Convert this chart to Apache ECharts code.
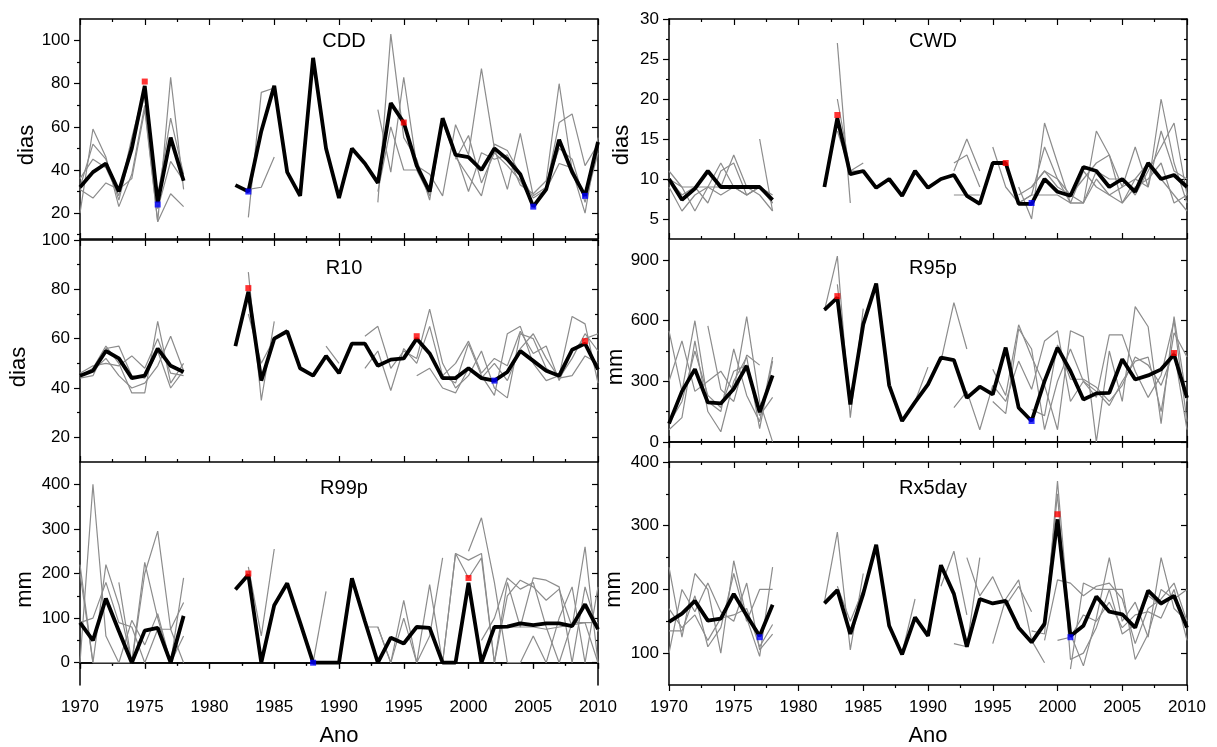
<!DOCTYPE html>
<html>
<head>
<meta charset="utf-8">
<script src="https://cdn.jsdelivr.net/npm/echarts@6/dist/echarts.min.js"></script>
<style>
html, body { margin: 0; padding: 0; background: #fff; }
#chart { width: 1217px; height: 747px; }
</style>
</head>
<body>
<div id="chart"></div>
<script>
// years on the x axis
const years = [1970, 1971, 1972, 1973, 1974, 1975, 1976, 1977, 1978, 1979, 1980,
    1981, 1982, 1983, 1984, 1985, 1986, 1987, 1988, 1989, 1990, 1991, 1992, 1993,
    1994, 1995, 1996, 1997, 1998, 1999, 2000, 2001, 2002, 2003, 2004, 2005, 2006,
    2007, 2008, 2009, 2010];

// regional mean (black), null = no data
const cddMean = [32, 39, 43, 30, 50, 79, 25, 55, 35, null, null, null, 33, 30, 58, 79, 39, 28, 92, 50, 27, 50, 43, 34, 71, 62, 42, 30, 64, 47, 46, 40, 50, 45, 38, 23, 31, 54, 39, 28, 53];
const cwdMean = [10, 7.4, 8.8, 11, 9, 9, 9, 9, 7.4, null, null, null, 9, 17.6, 10.6, 11, 8.9, 10, 7.9, 11, 8.9, 10, 10.5, 7.9, 6.9, 12, 12, 6.9, 6.9, 10, 8.4, 7.9, 11.5, 11, 9, 10, 8.4, 12, 10, 10.5, 9];
const r10Mean = [45, 47, 55, 52, 44, 45, 56, 49, 46.5, null, null, null, 57, 79, 43, 60, 63, 48, 45, 53, 46, 58, 58, 49, 51.5, 52, 60, 54, 44, 44, 48, 44, 43, 46.5, 55, 51, 47, 45, 55.5, 58, 47.5];
const r95Mean = [90, 250, 360, 195, 190, 263, 376, 147, 329, null, null, null, 654, 715, 185, 582, 784, 280, 103, 197, 285, 417, 405, 218, 273, 235, 467, 169, 103, 301, 467, 351, 210, 240, 243, 409, 309, 329, 359, 433, 218];
const r99Mean = [90, 50, 144, 71, 0, 72, 78, 0, 105, null, null, null, 164, 197, 0, 129, 178, 90, 0, 0, 0, 189, 93, 0, 56, 43, 80, 78, 0, 0, 179, 0, 80, 81, 88, 84, 88, 88, 82, 131, 75];
const rx5Mean = [149, 162, 182, 151, 154, 193, 159, 127, 176, null, null, null, 178, 199, 130, 193, 270, 143, 98, 156, 127, 238, 193, 110, 185, 178, 182, 140, 117, 146, 310, 127, 143, 189, 165, 161, 140, 198, 178, 190, 140];

// stations (grey): [first year, values]
const cddGray = [
    [1970, [20, 59, 46, 23, 38, 70, 16, 83, 31]],
    [1970, [32, 52, 45, 26, 50, 75, 28, 64, 38]],
    [1970, [31, 27, 34, 31, 36, 68, 16, 29, 23]],
    [1970, [36, 45, 41, 28, 55, 78, 22, 44, 35]],
    [1983, [18, 76, 78]],
    [1983, [31, 32, 46]],
    [1993, [68, 39, 83, 42, 38, 28, 61, 47, 87, 50, 31, 57, 28, 32, 62, 66, 42, 52]],
    [1993, [25, 103, 55, 45, 26, 63, 48, 30, 48, 45, 47, 33, 29, 35, 80, 40, 20, 55]],
    [1993, [30, 60, 40, 40, 28, 62, 46, 37, 28, 52, 49, 38, 27, 31, 43, 41, 28, 50]],
    [1999, [45, 56, 34, 48, 42, 35, 24, 32, 50, 45, 25, 48]]
];
const cwdGray = [
    [1970, [11, 9, 6, 9, 12, 9, 8, 9, 8]],
    [1970, [10, 9, 9, 7, 11, 12, 8, 9, 7]],
    [1970, [10, 8, 9, 9, 9, 13, 9, 8, 6]],
    [1970, [9, 6, 8, 9, 8, 9, 8, 9, 7]],
    [1977, [15, 6]],
    [1983, [27, 7]],
    [1983, [20, 11, 12]],
    [1983, [16, 11, 11]],
    [1992, [8, 8, 8]],
    [1992, [11, 15, 11]],
    [1992, [12, 13, 9]],
    [1995, [14, 9, 7]],
    [1997, [9, 5, 17, 12, 7, 7, 16, 13, 9, 14, 9, 16, 11, 10]],
    [1997, [7, 8, 14, 10, 8, 10, 12, 13, 7, 10, 9, 20, 12, 7]],
    [1997, [8, 9, 11, 9, 8, 7, 11, 10, 10, 8, 11, 14, 17, 8]],
    [1997, [7, 8, 8, 8, 7, 7, 10, 8, 9, 10, 12, 10, 8, 6]],
    [1998, [9, 11, 10, 7, 11, 9, 8, 7, 9, 10, 12, 7, 8]]
];
const r10Gray = [
    [1970, [45, 48, 57, 50, 38, 38, 67, 42, 50]],
    [1970, [44, 45, 56, 57, 45, 44, 55, 40, 47]],
    [1970, [46, 49, 50, 49, 53, 48, 60, 46, 45]],
    [1970, [45, 47, 52, 45, 40, 42, 49, 61, 47]],
    [1983, [87, 35, 67]],
    [1983, [70, 50, 60]],
    [1989, [57, 50]],
    [1992, [48, 55, 39, 56, 50, 65, 45, 42, 58, 45, 37, 62, 65, 50, 43, 45, 69, 66, 42]],
    [1992, [61, 65, 48, 55, 52, 72, 50, 40, 45, 55, 40, 36, 62, 60, 48, 44, 52, 62, 55]],
    [1996, [45, 48, 40, 38, 48, 44, 50, 43, 56, 62, 52, 44, 45, 53, 50]],
    [1998, [45, 50, 59, 46, 52, 49, 63, 54, 57, 43, 55, 60, 62]]
];
const r95Gray = [
    [1970, [550, 250, 600, 200, 150, 460, 230, 100, 420]],
    [1970, [300, 500, 250, 300, 350, 250, 620, 200, 0]],
    [1970, [60, 120, 500, 150, 50, 300, 420, 65, 400]],
    [1970, [90, 200, 450, 230, 170, 350, 380, 130, 220]],
    [1973, [575, 260, 200, 430, 380]],
    [1982, [650, 920, 120, 660]],
    [1983, [780, 200, 590]],
    [1989, [200, 370]],
    [1991, [400, 690, 460]],
    [1992, [170, 250, 60, 280]],
    [1995, [360, 230, 580, 420, 280, 60, 550, 520, 0, 450, 200, 670, 570, 90, 620, 200]],
    [1995, [200, 140, 560, 460, 60, 300, 460, 300, 220, 530, 530, 350, 220, 330, 600, 100]],
    [1995, [280, 200, 400, 260, 500, 550, 200, 300, 250, 180, 300, 400, 420, 150, 540, 420]],
    [1998, [160, 130, 480, 310, 310, 270, 200, 280, 420, 380, 280, 450, 60]]
];
const r99Gray = [
    [1970, [220, 0, 220, 130, 0, 225, 100, 0, 190]],
    [1970, [0, 400, 60, 0, 0, 200, 295, 75, 0]],
    [1970, [90, 100, 180, 90, 80, 0, 75, 75, 135]],
    [1970, [200, 0, 0, 0, 95, 40, 110, 0, 60]],
    [1973, [180, 0, 75]],
    [1983, [215, 60, 255]],
    [1988, [0, 160]],
    [1992, [80, 80, 0, 140, 0, 175, 0, 245, 230, 245, 0, 180, 80, 190, 185, 170, 0, 170, 70]],
    [1993, [80, 0, 100, 0, 60, 235]],
    [1998, [0, 245, 190, 235, 0, 150, 185, 170, 140, 165, 80, 260, 0]],
    [2000, [250, 325, 180, 0, 0, 60, 0, 100, 170, 0, 170]],
    [2001, [50, 100, 190, 165, 180, 80, 0, 90, 90, 90]],
    [2002, [80, 80, 80, 80, 75, 80, 85, 90, 0]]
];
const rx5Gray = [
    [1970, [235, 125, 225, 200, 100, 245, 155, 95, 235]],
    [1970, [100, 200, 165, 210, 165, 150, 210, 105, 130]],
    [1970, [135, 135, 190, 110, 140, 225, 150, 200, 200]],
    [1970, [170, 140, 160, 120, 155, 160, 170, 110, 145]],
    [1982, [180, 290, 105, 225]],
    [1983, [205, 150, 200]],
    [1988, [100, 185]],
    [1991, [205, 260, 160]],
    [1992, [115, 110, 250]],
    [1993, [250, 190, 220, 175, 205, 165]],
    [1995, [115, 185, 215, 120, 85]],
    [1998, [135, 130, 370, 130, 80, 155, 250, 150, 180, 125, 250, 170, 150]],
    [1998, [120, 150, 350, 90, 100, 140, 200, 200, 90, 130, 200, 185, 200]],
    [1999, [120, 215, 210, 190, 205, 210, 185, 115, 170, 185, 210, 150]],
    [2000, [120, 125, 160, 150, 180, 140, 160, 165, 155, 200, 120]],
    [2001, [75, 210, 200, 200, 130, 145, 190, 175, 190, 140]]
];

// highest (red) and lowest (blue) marks
const cddMax = [[1975, 81], [1995, 62]];
const cddMin = [[1976, 24], [1983, 30], [2005, 23], [2009, 28]];
const cwdMax = [[1983, 18], [1996, 12]];
const cwdMin = [[1998, 7]];
const r10Max = [[1983, 80.5], [1996, 61], [2009, 59]];
const r10Min = [[2002, 43]];
const r95Max = [[1983, 722], [2009, 440]];
const r95Min = [[1998, 103]];
const r99Max = [[1983, 200], [2000, 190]];
const r99Min = [[1988, 0]];
const rx5Max = [[2000, 318]];
const rx5Min = [[1977, 125], [2001, 125]];

// y ticks
const cddTicks = [20, 40, 60, 80, 100], cddMinor = [10, 30, 50, 70, 90];
const cwdTicks = [5, 10, 15, 20, 25, 30], cwdMinor = [7.5, 12.5, 17.5, 22.5, 27.5];
const r10Ticks = [20, 40, 60, 80, 100], r10Minor = [30, 50, 70, 90];
const r95Ticks = [0, 300, 600, 900], r95Minor = [150, 450, 750];
const r99Ticks = [0, 100, 200, 300, 400], r99Minor = [50, 150, 250, 350];
const rx5Ticks = [100, 200, 300, 400], rx5Minor = [150, 250, 350];

const panels = [
    {title: 'CDD', unit: 'dias', col: 0, row: 0, min: 8, max: 110, ticks: cddTicks, minor: cddMinor, mean: cddMean, gray: cddGray, hi: cddMax, lo: cddMin, gap: 40},
    {title: 'CWD', unit: 'dias', col: 1, row: 0, min: 2.5, max: 30, ticks: cwdTicks, minor: cwdMinor, mean: cwdMean, gray: cwdGray, hi: cwdMax, lo: cwdMin, gap: 36},
    {title: 'R10', unit: 'dias', col: 0, row: 1, min: 10, max: 100, ticks: r10Ticks, minor: r10Minor, mean: r10Mean, gray: r10Gray, hi: r10Max, lo: r10Min, gap: 50},
    {title: 'R95p', unit: 'mm', col: 1, row: 1, min: -100, max: 1000, ticks: r95Ticks, minor: r95Minor, mean: r95Mean, gray: r95Gray, hi: r95Max, lo: r95Min, gap: 41},
    {title: 'R99p', unit: 'mm', col: 0, row: 2, min: -50, max: 450, ticks: r99Ticks, minor: r99Minor, mean: r99Mean, gray: r99Gray, hi: r99Max, lo: r99Min, gap: 44},
    {title: 'Rx5day', unit: 'mm', col: 1, row: 2, min: 50, max: 400, ticks: rx5Ticks, minor: rx5Minor, mean: rx5Mean, gray: rx5Gray, hi: rx5Max, lo: rx5Min, gap: 44}
];

const FONT = 'Liberation Sans, Arial, sans-serif';
const colLeft = [80, 669], colW = 518;
const rowTop = [19, 240, 462], rowH = [220, 222, 223];
const titleTop = [26, 253, 473];

var grids = [], xAxes = [], yAxes = [], series = [], titles = [];
var line = {show: true, lineStyle: {color: '#000', width: 1.5}};
var tickStyle = {color: '#000', width: 1.2};

panels.forEach(function (p, k) {
    grids.push({left: colLeft[p.col], top: rowTop[p.row], width: colW, height: rowH[p.row], outerBoundsMode: 'none'});
    titles.push({text: p.title, left: colLeft[p.col] + colW / 2, top: titleTop[p.row], textAlign: 'center',
        textStyle: {fontSize: 20, fontWeight: 'normal', color: '#000', fontFamily: FONT}});

    var bottom = p.row === 2;
    // bottom & top year axes
    xAxes.push({gridIndex: k, type: 'value', position: 'bottom', min: 1970, max: 2010, interval: 5,
        axisLine: line, splitLine: {show: false},
        axisTick: {inside: !bottom, length: 6, lineStyle: tickStyle},
        minorTick: {show: true, splitNumber: 2, length: 3, lineStyle: tickStyle},
        axisLabel: {show: bottom, fontSize: 17, color: '#000', margin: 14, fontFamily: FONT,
            formatter: function (v) { return String(v); }},
        name: bottom ? 'Ano' : '', nameLocation: 'middle', nameGap: 40,
        nameTextStyle: {fontSize: 22, color: '#000', fontFamily: FONT}});
    xAxes.push({gridIndex: k, type: 'value', position: 'top', min: 1970, max: 2010, interval: 5,
        axisLine: line, splitLine: {show: false},
        axisTick: {inside: true, length: 6, lineStyle: tickStyle},
        minorTick: {show: true, splitNumber: 2, length: 3, lineStyle: tickStyle},
        axisLabel: {show: false}});

    // left (labels, outward ticks) and right (inward ticks), major + minor
    yAxes.push({gridIndex: k, type: 'value', position: 'left', min: p.min, max: p.max,
        axisLine: line, splitLine: {show: false},
        axisTick: {inside: false, length: 6, customValues: p.ticks, lineStyle: tickStyle},
        axisLabel: {customValues: p.ticks, fontSize: 17, color: '#000', margin: 10, fontFamily: FONT},
        name: p.unit, nameLocation: 'middle', nameGap: p.gap,
        nameTextStyle: {fontSize: 22, color: '#000', fontFamily: FONT, padding: [0, 32, 0, 0]}});
    yAxes.push({gridIndex: k, type: 'value', position: 'left', min: p.min, max: p.max,
        axisLine: {show: false}, splitLine: {show: false}, axisLabel: {show: false},
        axisTick: {inside: false, length: 3, customValues: p.minor, lineStyle: tickStyle}});
    yAxes.push({gridIndex: k, type: 'value', position: 'right', min: p.min, max: p.max,
        axisLine: line, splitLine: {show: false}, axisLabel: {show: false},
        axisTick: {inside: true, length: 6, customValues: p.ticks, lineStyle: tickStyle}});
    yAxes.push({gridIndex: k, type: 'value', position: 'right', min: p.min, max: p.max,
        axisLine: {show: false}, splitLine: {show: false}, axisLabel: {show: false},
        axisTick: {inside: true, length: 3, customValues: p.minor, lineStyle: tickStyle}});

    var xi = k * 2, yi = k * 4;
    p.gray.forEach(function (g) {
        series.push({type: 'line', xAxisIndex: xi, yAxisIndex: yi, showSymbol: false, silent: true, z: 2,
            lineStyle: {color: '#8c8c8c', width: 1.2},
            data: g[1].map(function (v, i) { return [g[0] + i, v]; })});
    });
    series.push({type: 'line', xAxisIndex: xi, yAxisIndex: yi, showSymbol: false, silent: true, z: 3,
        connectNulls: false, lineStyle: {color: '#000', width: 3.8}, itemStyle: {color: '#000'},
        data: years.map(function (y, i) { return [y, p.mean[i] === null ? '-' : p.mean[i]]; })});
    series.push({type: 'scatter', xAxisIndex: xi, yAxisIndex: yi, symbol: 'rect', symbolSize: 6, z: 4,
        itemStyle: {color: '#ff0000'}, data: p.hi});
    series.push({type: 'scatter', xAxisIndex: xi, yAxisIndex: yi, symbol: 'rect', symbolSize: 6, z: 4,
        itemStyle: {color: '#0000ff'}, data: p.lo});
});

var myChart = echarts.init(document.getElementById('chart'));
myChart.setOption({
    backgroundColor: '#fff',
    animation: false,
    textStyle: {fontFamily: FONT},
    title: titles,
    grid: grids,
    xAxis: xAxes,
    yAxis: yAxes,
    series: series
});
</script>
</body>
</html>
